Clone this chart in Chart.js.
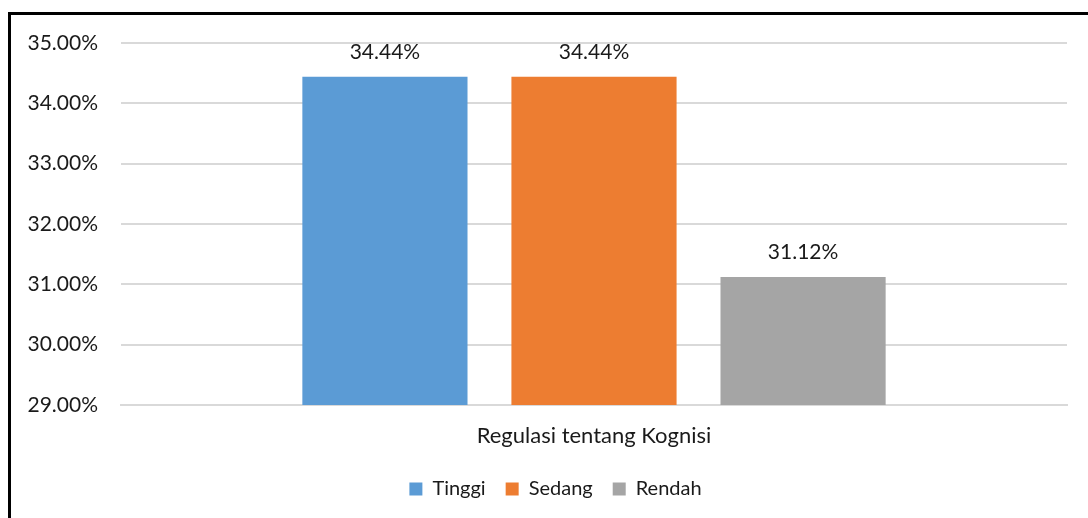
<!DOCTYPE html>
<html>
<head>
<meta charset="utf-8">
<script src="https://cdn.jsdelivr.net/npm/chart.js@4.4.1/dist/chart.umd.min.js"></script>
<style>
  html, body { margin: 0; padding: 0; background: #fff; overflow: hidden; }
  #wrap { position: relative; width: 1088px; height: 518px; }
  #frame {
    position: absolute; left: 8px; top: 12px; width: 1200px; height: 600px;
    border-left: 3px solid #000; border-top: 3px solid #000; box-sizing: border-box;
    pointer-events: none;
  }
  canvas { position: absolute; left: 0; top: 0; }
</style>
</head>
<body>
<div id="wrap">
  <canvas id="chart" width="1088" height="518"></canvas>
  <div id="frame"></div>
</div>
<script>
const categories = ['Regulasi tentang Kognisi'];
const seriesNames = ['Tinggi', 'Sedang', 'Rendah'];
const tinggiValues = [34.44];
const sedangValues = [34.44];
const rendahValues = [31.12];
const yMin = 29;
const yMax = 35;
const yStep = 1;

const seriesColors = ['#5B9BD5', '#ED7D31', '#A5A5A5'];
const FONT = 'Lato, "Open Sans", sans-serif';
const TEXT = '#1a1a1a';

// labels above bars
const barLabels = {
    id: 'barLabels',
    afterDatasetsDraw(chart) {
        const ctx = chart.ctx;
        ctx.save();
        ctx.font = '21px ' + FONT;
        ctx.fillStyle = TEXT;
        ctx.textAlign = 'center';
        ctx.textBaseline = 'middle';
        chart.data.datasets.forEach((ds, i) => {
            const meta = chart.getDatasetMeta(i);
            meta.data.forEach((bar, j) => {
                ctx.fillText(ds.data[j].toFixed(2) + '%', bar.x, bar.y - 25);
            });
        });
        ctx.restore();
    }
};

// legend sits a bit right of centre in the original
const legendShift = {
    id: 'legendShift',
    afterLayout(chart) {
        if (chart.legend) {
            chart.legend.left += 22;
            chart.legend.right += 22;
        }
    }
};

const allValues = [tinggiValues, sedangValues, rendahValues];

new Chart(document.getElementById('chart'), {
    type: 'bar',
    data: {
        labels: categories,
        datasets: seriesNames.map((name, i) => ({
            label: name,
            data: allValues[i],
            backgroundColor: seriesColors[i],
            borderWidth: 0,
            categoryPercentage: 0.663,
            barPercentage: 0.79
        }))
    },
    options: {
        responsive: false,
        animation: false,
        layout: {
            padding: { left: 0, right: 21, top: 43, bottom: 9 }
        },
        plugins: {
            tooltip: { enabled: false },
            legend: {
                position: 'bottom',
                labels: {
                    boxWidth: 13,
                    boxHeight: 13,
                    padding: 20,
                    color: TEXT,
                    font: { family: FONT, size: 20 }
                }
            }
        },
        scales: {
            x: {
                grid: { display: false, drawTicks: false },
                border: { display: true, color: '#D9D9D9', width: 2 },
                ticks: {
                    color: TEXT,
                    padding: 18,
                    font: { family: FONT, size: 22 }
                },
                afterFit(scale) { scale.height = 54; }
            },
            y: {
                min: yMin,
                max: yMax,
                grid: { color: '#D9D9D9', lineWidth: 2, drawTicks: false },
                border: { display: false },
                ticks: {
                    stepSize: yStep,
                    padding: 23,
                    color: TEXT,
                    font: { family: FONT, size: 21 },
                    callback: v => v.toFixed(2) + '%'
                },
                afterFit(scale) { scale.width = 121; }
            }
        }
    },
    plugins: [barLabels, legendShift]
});
</script>
</body>
</html>
